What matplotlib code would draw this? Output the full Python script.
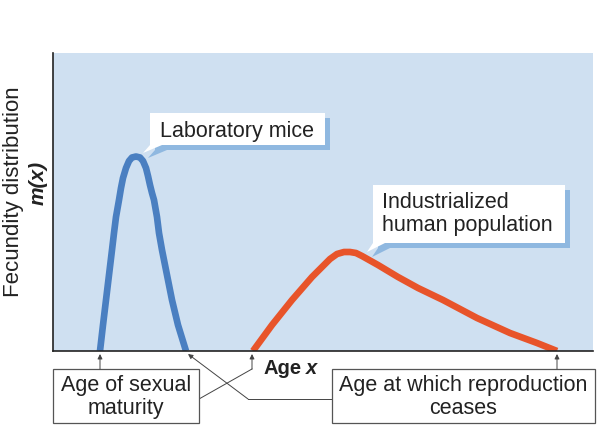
import matplotlib
matplotlib.use('Agg')
import matplotlib.pyplot as plt
from matplotlib.patches import Polygon, Rectangle

plt.rcParams['font.family'] = ['Liberation Sans', 'DejaVu Sans']

# age and fecundity values (arbitrary units)
mice_age = [47, 50, 53, 56, 59, 61, 63, 66, 68, 70, 73, 76, 79, 83, 87, 90, 93, 95, 97, 99, 101,
            104, 106, 109, 114, 119, 125, 133]
mice_m = [0, 26, 51, 76, 101, 118, 134, 151, 163, 173, 183, 190, 193.5, 194.5, 193.5, 190, 183,
          175, 166, 158, 151, 134, 118, 101, 76, 51, 26, 0]

human_age = [200, 219, 239, 259, 269, 277, 284, 291, 297, 303, 309, 325, 345, 365, 390, 424, 457,
             484, 504]
human_m = [0, 26, 51, 74, 84, 92, 97, 99, 99, 98, 95, 86, 74, 63, 51, 33, 18, 8, 0]

mice_label = 'Laboratory mice'
human_label = 'Industrialized\nhuman population'
start_label = 'Age of sexual\nmaturity'
end_label = 'Age at which reproduction\nceases'

bg = '#cfe0f1'
shadow = '#8fb8e0'
blue = '#4a7fc1'
orange = '#e8542a'
grey = '#444444'
ink = '#222222'

fig = plt.figure(figsize=(6, 4.25), dpi=100)
ax = fig.add_axes([53 / 600, 74 / 425, 540 / 600, 298 / 425])
ax.set_facecolor(bg)
ax.set_xlim(0, 540)
ax.set_ylim(0, 298)
ax.set_xticks([])
ax.set_yticks([])
for s in ['top', 'right']:
    ax.spines[s].set_visible(False)
for s in ['left', 'bottom']:
    ax.spines[s].set_linewidth(1.2)
    ax.spines[s].set_color(ink)

ax.plot(mice_age, mice_m, color=blue, lw=4.8, solid_capstyle='butt', solid_joinstyle='round')
ax.plot(human_age, human_m, color=orange, lw=4.8, solid_capstyle='butt', solid_joinstyle='round')


def callout(verts, dx=5, dy=-5):
    sh = [(x + dx, y + dy) for x, y in verts]
    ax.add_patch(Polygon(sh, closed=True, fc=shadow, ec='none', zorder=4))
    ax.add_patch(Polygon(verts, closed=True, fc='white', ec='none', zorder=5))


callout([(97, 238), (272, 238), (272, 206), (109, 206), (90, 198), (97, 206)])
ax.text(107, 214, mice_label, fontsize=15.5, va='baseline', ha='left', color=ink, zorder=6)

callout([(320, 166), (512, 166), (512, 108), (332, 108), (314, 99), (320, 108)])
ax.text(329, 137, human_label, fontsize=15.5, va='center', ha='left', color=ink,
        linespacing=1.1, zorder=6)

# axis labels
ax.text(-39, 159, 'Fecundity distribution', rotation=90, fontsize=16, ha='center', va='center',
        color=ink)
ax.text(-15, 168, 'm(x)', rotation=90, fontsize=15, ha='center', va='center',
        fontweight='bold', fontstyle='italic', color=ink)
ax.text(249, -23, 'Age', fontsize=14.5, fontweight='bold', ha='right', va='baseline', color=ink)
ax.text(253, -23, 'x', fontsize=14.5, fontweight='bold', fontstyle='italic', ha='left',
        va='baseline', color=ink)

# boxes below the axis
for x0, x1, label in [(0, 146, start_label), (279, 542, end_label)]:
    ax.add_patch(Rectangle((x0, -72), x1 - x0, 54, fc='white', ec='#555555', lw=0.9,
                           clip_on=False, zorder=3))
    ax.text((x0 + x1) / 2, -46, label, fontsize=15.5, ha='center', va='center',
            color=ink, linespacing=1.1)

arrow = dict(arrowstyle='-|>', mutation_scale=7, lw=0.7, color=grey, shrinkA=0, shrinkB=0)
ax.annotate('', xy=(mice_age[0], -3), xytext=(mice_age[0], -18), arrowprops=arrow,
            annotation_clip=False)
ax.annotate('', xy=(human_age[-1], -3), xytext=(human_age[-1], -18), arrowprops=arrow,
            annotation_clip=False)
ax.plot([146, human_age[0] - 1], [-48, -18], color=grey, lw=0.7, clip_on=False)
ax.annotate('', xy=(human_age[0] - 1, -3), xytext=(human_age[0] - 1, -18), arrowprops=arrow,
            annotation_clip=False)
ax.plot([279, 195], [-48, -48], color=grey, lw=0.7, clip_on=False)
ax.annotate('', xy=(mice_age[-1] + 2, -3), xytext=(195, -48), arrowprops=arrow,
            annotation_clip=False)

fig.savefig('out.png', dpi=100)
